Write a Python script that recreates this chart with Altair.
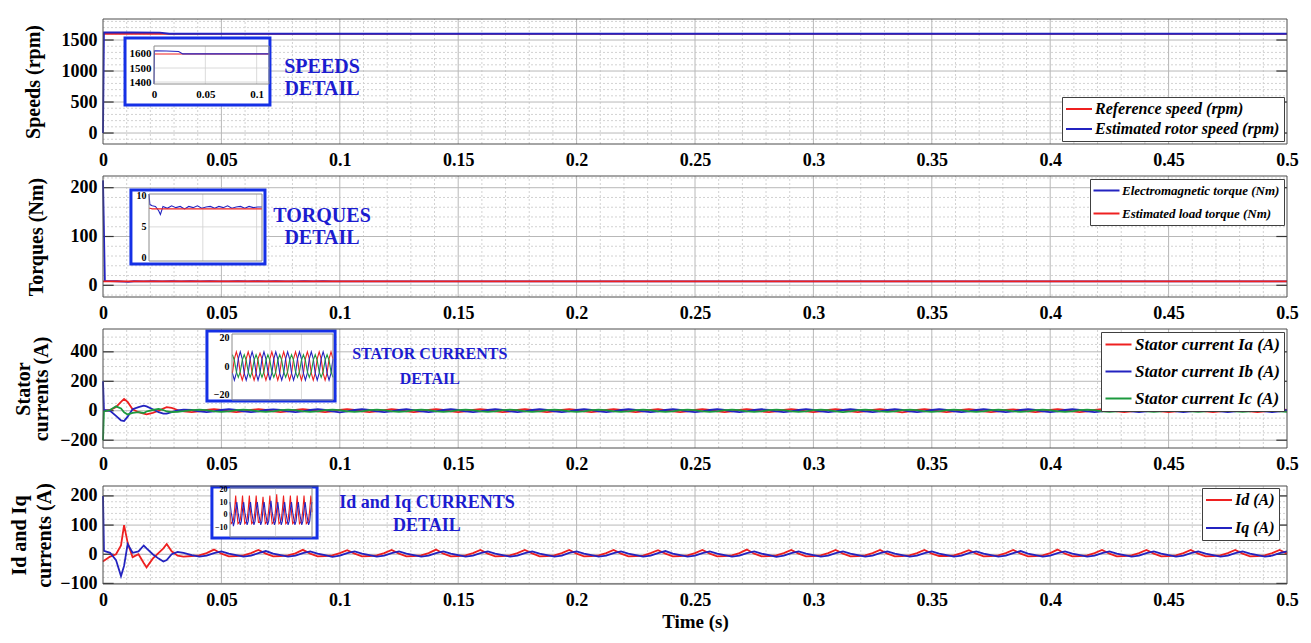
import altair as alt
import pandas as pd

FONT = "Liberation Serif"
RED = "#ee2020"
BLUE = "#2323c0"
GREEN = "#1c9a3e"
BOX = "#1530e6"
TXT = "#1c1cd0"
FRAME = "#4d4d4d"
MAJOR = "#b8b8b8"
MINOR = "#d2d2d2"
W = 1184

# ---------------- axis values ----------------
x_ticks = [0, 0.05, 0.1, 0.15, 0.2, 0.25, 0.3, 0.35, 0.4, 0.45, 0.5]
x_major = [0.05, 0.1, 0.15, 0.2, 0.25, 0.3, 0.35, 0.4, 0.45]
x_minor = [0.01, 0.02, 0.03, 0.04, 0.06, 0.07, 0.08, 0.09, 0.11, 0.12, 0.13, 0.14,
           0.16, 0.17, 0.18, 0.19, 0.21, 0.22, 0.23, 0.24, 0.26, 0.27, 0.28, 0.29,
           0.31, 0.32, 0.33, 0.34, 0.36, 0.37, 0.38, 0.39, 0.41, 0.42, 0.43, 0.44,
           0.46, 0.47, 0.48, 0.49]

# ---------------- speeds ----------------
speed_names = ["Reference speed (rpm)", "Estimated rotor speed (rpm)"]
speed_t = [0, 0.0004, 0.012, 0.024, 0.028, 0.5]
speed_ref = [1600, 1600, 1600, 1600, 1600, 1600]
speed_est = [0, 1622, 1621, 1618, 1601, 1601]

# ---------------- torques ----------------
torque_names = ["Electromagnetic torque (Nm)", "Estimated load torque (Nm)"]
torque_t = [0, 0.0008, 0.003, 0.006, 0.009, 0.0106, 0.013, 0.017, 0.021, 0.025,
            0.029, 0.033, 0.037, 0.041, 0.045, 0.049, 0.053, 0.057, 0.061, 0.065,
            0.069, 0.073, 0.077, 0.081, 0.085, 0.089, 0.093, 0.097, 0.101, 0.5]
torque_em = [215, 8.6, 8.4, 8.3, 7.6, 7.0, 8.3, 8.0, 8.4, 8.1,
             8.3, 7.9, 8.3, 8.1, 8.4, 8.0, 8.2, 8.3, 8.0, 8.3,
             8.1, 8.4, 8.0, 8.2, 8.3, 8.0, 8.3, 8.1, 8.2, 8.2]
torque_load = [8.0, 8.0, 7.9, 7.9, 7.9, 7.9, 7.9, 7.9, 7.9, 7.9,
               7.9, 7.9, 7.9, 7.9, 7.9, 7.9, 7.9, 7.9, 7.9, 7.9,
               7.9, 7.9, 7.9, 7.9, 7.9, 7.9, 7.9, 7.9, 7.9, 7.9]

# ---------------- currents (start-up part) ----------------
cur_t_start = [0, 0.0004, 0.003, 0.0055, 0.0076, 0.0089, 0.0104, 0.0125, 0.015,
               0.0172, 0.0184, 0.021, 0.0235, 0.0255, 0.0269, 0.029, 0.0315, 0.034]
ia_start = [0, 0, 5, 25, 60, 80, 60, 10, -10, -20, -25, -15, 0, 15, 25, 20, 5, -5]
ib_start = [200, 5, 0, -35, -65, -70, -40, 10, 25, 35, 30, 10, -10, -20, -20, -10, 2, 8]
ic_start = [-200, -5, 5, 30, 15, -10, -25, -15, -10, -15, -5, 5, 12, 5, -5, -10, -7, -3]
id_start = [-25, -22, -8, 0, 30, 100, 40, -10, 0, -30, -45, -15, 5, 20, 35, 10, -5, -8]
iq_start = [200, 12, 5, -20, -75, -40, 35, 5, 10, 30, 20, 0, -15, -25, -20, 0, 8, 5]

# ---------------- currents (steady part) ----------------
cur_t_steady = [
    0.0375, 0.040625, 0.04375, 0.046875,
    0.05, 0.053125, 0.05625, 0.059375, 0.0625, 0.065625, 0.06875, 0.071875,
    0.075, 0.078125, 0.08125, 0.084375, 0.0875, 0.090625, 0.09375, 0.096875,
    0.1, 0.103125, 0.10625, 0.109375, 0.1125, 0.115625, 0.11875, 0.121875,
    0.125, 0.128125, 0.13125, 0.134375, 0.1375, 0.140625, 0.14375, 0.146875,
    0.15, 0.153125, 0.15625, 0.159375, 0.1625, 0.165625, 0.16875, 0.171875,
    0.175, 0.178125, 0.18125, 0.184375, 0.1875, 0.190625, 0.19375, 0.196875,
    0.2, 0.203125, 0.20625, 0.209375, 0.2125, 0.215625, 0.21875, 0.221875,
    0.225, 0.228125, 0.23125, 0.234375, 0.2375, 0.240625, 0.24375, 0.246875,
    0.25, 0.253125, 0.25625, 0.259375, 0.2625, 0.265625, 0.26875, 0.271875,
    0.275, 0.278125, 0.28125, 0.284375, 0.2875, 0.290625, 0.29375, 0.296875,
    0.3, 0.303125, 0.30625, 0.309375, 0.3125, 0.315625, 0.31875, 0.321875,
    0.325, 0.328125, 0.33125, 0.334375, 0.3375, 0.340625, 0.34375, 0.346875,
    0.35, 0.353125, 0.35625, 0.359375, 0.3625, 0.365625, 0.36875, 0.371875,
    0.375, 0.378125, 0.38125, 0.384375, 0.3875, 0.390625, 0.39375, 0.396875,
    0.4, 0.403125, 0.40625, 0.409375, 0.4125, 0.415625, 0.41875, 0.421875,
    0.425, 0.428125, 0.43125, 0.434375, 0.4375, 0.440625, 0.44375, 0.446875,
    0.45, 0.453125, 0.45625, 0.459375, 0.4625, 0.465625, 0.46875, 0.471875,
    0.475, 0.478125, 0.48125, 0.484375, 0.4875, 0.490625, 0.49375, 0.496875,
    0.5]
ia_steady = [
    -10, -5, 5, 10, 5, -5, -10, -5, 5, 11, 5, -5, -9, -5, 5, 10, 5, -5,
    -10, -5, 5, 10, 5, -5, -10, -5, 4, 10, 5, -5, -10, -5, 5, 10, 5, -4,
    -10, -5, 5, 10, 5, -5, -9, -5, 5, 10, 5, -5, -10, -5, 5, 11, 5, -5,
    -10, -5, 5, 10, 5, -5, -10, -5, 5, 10, 4, -5, -10, -5, 5, 10, 5, -5,
    -10, -4, 5, 10, 5, -5, -10, -5, 5, 10, 5, -5, -10, -5, 5, 10, 5, -5,
    -10, -5, 5, 10, 5, -5, -11, -5, 5, 10, 5, -5, -10, -5, 5, 10, 5, -5,
    -10, -5, 5, 9, 5, -5, -10, -5, 5, 10, 5, -5, -10, -5, 5, 10, 5, -5,
    -10, -5, 5, 10, 5, -5, -10, -5, 5, 10, 5, -5, -10, -5, 5, 10, 5, -5,
    -10, -5, 5, 10, 5]
ib_steady = [
    5, -5, -10, -5, 5, 10, 5, -5, -10, -5, 5, 9, 5, -5, -10, -5, 5, 10,
    5, -5, -11, -5, 5, 10, 5, -5, -10, -5, 5, 10, 4, -5, -10, -5, 5, 10,
    5, -5, -10, -5, 5, 10, 5, -5, -10, -5, 5, 10, 5, -5, -10, -5, 5, 10,
    5, -5, -10, -4, 5, 10, 5, -5, -10, -5, 5, 10, 5, -5, -9, -5, 5, 10,
    5, -5, -10, -5, 5, 10, 5, -5, -10, -5, 5, 11, 5, -5, -10, -5, 5, 10,
    5, -5, -10, -5, 5, 10, 5, -5, -10, -5, 5, 10, 5, -5, -10, -5, 5, 10,
    5, -5, -10, -5, 5, 10, 5, -4, -10, -5, 5, 10, 5, -5, -10, -5, 5, 10,
    5, -5, -10, -5, 5, 10, 5, -5, -10, -5, 5, 10, 5, -5, -10, -5, 5, 10,
    5, -5, -10, -5, 5]
ic_steady = [
    4, 8, 4, -4, -8, -4, 4, 8, 4, -4, -8, -4, 4, 7, 4, -4, -8, -4,
    4, 8, 4, -4, -8, -4, 4, 8, 4, -4, -7, -4, 4, 8, 4, -4, -8, -4,
    4, 8, 4, -4, -8, -4, 4, 8, 4, -4, -8, -4, 4, 8, 4, -4, -8, -4,
    4, 7, 4, -4, -8, -4, 4, 8, 4, -4, -8, -4, 4, 8, 4, -4, -8, -4,
    4, 8, 4, -4, -8, -4, 4, 8, 4, -4, -8, -4, 4, 8, 4, -4, -9, -4,
    4, 8, 4, -4, -8, -4, 4, 8, 4, -4, -8, -4, 4, 8, 4, -4, -8, -4,
    4, 8, 4, -4, -8, -4, 4, 8, 4, -4, -8, -4, 4, 8, 4, -4, -8, -4,
    4, 8, 4, -4, -8, -4, 4, 8, 4, -4, -8, -4, 4, 8, 4, -4, -8, -4,
    4, 8, 4, -4, -8]
id_steady = [
    -6, -4, 4, 16, 2, -7, -6, -4, 4, 15, 2, -7, -6, -4, 3, 15, 2, -7,
    -6, -4, 4, 14, 2, -7, -6, -4, 4, 15, 2, -7, -6, -4, 4, 16, 2, -7,
    -6, -4, 4, 15, 2, -7, -6, -4, 4, 15, 3, -7, -6, -4, 4, 15, 2, -7,
    -6, -4, 4, 15, 2, -7, -6, -5, 4, 14, 2, -7, -6, -4, 4, 15, 2, -7,
    -6, -4, 4, 16, 2, -7, -6, -4, 4, 15, 2, -7, -6, -4, 4, 15, 2, -7,
    -6, -4, 4, 15, 2, -7, -6, -4, 4, 15, 2, -6, -6, -4, 4, 14, 2, -7,
    -6, -4, 4, 15, 2, -7, -6, -4, 4, 16, 2, -7, -6, -4, 4, 15, 2, -7,
    -6, -4, 4, 15, 2, -7, -6, -4, 4, 15, 2, -7, -6, -4, 4, 15, 2, -7,
    -6, -4, 4, 15, 2]
iq_steady = [
    -3, -8, -5, 4, 10, 2, -3, -8, -5, 4, 11, 2, -3, -8, -5, 4, 10, 2,
    -3, -9, -5, 4, 10, 2, -3, -8, -5, 4, 10, 2, -3, -8, -5, 4, 10, 2,
    -3, -8, -5, 4, 10, 2, -3, -8, -5, 4, 10, 2, -3, -8, -5, 5, 10, 2,
    -3, -8, -5, 4, 10, 2, -3, -8, -5, 4, 11, 2, -3, -8, -5, 4, 10, 2,
    -3, -8, -5, 4, 10, 2, -3, -9, -5, 4, 10, 2, -3, -8, -5, 4, 10, 2,
    -3, -8, -5, 4, 10, 2, -3, -8, -5, 4, 10, 2, -3, -8, -5, 4, 10, 2,
    -3, -8, -5, 4, 11, 2, -3, -8, -5, 4, 10, 2, -3, -8, -5, 4, 10, 2,
    -3, -8, -5, 4, 10, 2, -3, -8, -5, 4, 10, 2, -3, -8, -5, 4, 10, 2,
    -3, -8, -5, 4, 10]

stator_names = ["Stator current Ia (A)", "Stator current Ib (A)", "Stator current Ic (A)"]
dq_names = ["Id (A)", "Iq (A)"]

cur_t = cur_t_start + cur_t_steady
ia = ia_start + ia_steady
ib = ib_start + ib_steady
ic = ic_start + ic_steady
i_d = id_start + id_steady
i_q = iq_start + iq_steady
for arr in (ia, ib, ic, i_d, i_q):
    assert len(arr) == len(cur_t), len(arr)
assert len(torque_em) == len(torque_t) == len(torque_load)


def long_df(t, series):
    return pd.concat([pd.DataFrame({"t": t, "v": vals, "s": name}) for name, vals in series],
                     ignore_index=True)


def panel(df, names, colors, ydom, yticks, yminor, height, ytitle, title_x, title_lh,
          leg_orient, leg_off, leg_rp, leg_fs, box, note, note_size, note_lh,
          ix_dom, iy_dom, ix_rng, iy_rng, iy_ticks, ix_ticks, i_fs, i_gx, i_gy,
          xtitle=None, yrange=None):
    xs = alt.Scale(domain=[0, 0.5], nice=False, zero=False)
    if yrange is None:
        ys = alt.Scale(domain=ydom, nice=False, zero=False)
    else:
        ys = alt.Scale(domain=ydom, range=yrange, nice=False, zero=False)
    ixs = alt.Scale(domain=ix_dom, range=ix_rng, nice=False, zero=False, clamp=True)
    iys = alt.Scale(domain=iy_dom, range=iy_rng, nice=False, zero=False, clamp=True)

    xaxis_kw = dict(orient="bottom", values=x_ticks, format="~g", grid=False, ticks=False,
                    domain=False, labelFont=FONT, labelFontSize=18, labelFontWeight="bold",
                    labelColor="black", labelPadding=7, labelFlush=False, labelOverlap=False,
                    titleFont=FONT, titleFontSize=19, titleFontWeight="bold",
                    titleColor="black", titleY=37, titleBaseline="middle")
    xaxis_kw["title"] = xtitle
    xaxis = alt.Axis(**xaxis_kw)
    yaxis = alt.Axis(orient="left", values=yticks, format="d", grid=False, ticks=False,
                     domain=False, labelFont=FONT, labelFontSize=18, labelFontWeight="bold",
                     labelColor="black", labelPadding=6, labelOverlap=False,
                     title=ytitle, titleFont=FONT, titleFontSize=20, titleFontWeight="bold",
                     titleColor="black", titleX=title_x, titleBaseline="middle",
                     titleAlign="center", titleLineHeight=title_lh, titleAngle=270)
    iyaxis = alt.Axis(orient="left", offset=-ix_rng[0], values=iy_ticks, format="d",
                      grid=False, ticks=False, domain=False, labelFont=FONT,
                      labelFontSize=i_fs, labelFontWeight="bold", labelColor="black",
                      labelPadding=3, labelOverlap=False, title=None, zindex=3)
    if ix_ticks:
        ixaxis = alt.Axis(orient="bottom", offset=iy_rng[0] - height, values=ix_ticks,
                          format="~g", grid=False, ticks=False, domain=False, labelFont=FONT,
                          labelFontSize=i_fs, labelFontWeight="bold", labelColor="black",
                          labelPadding=4, labelFlush=False, labelOverlap=False, title=None,
                          zindex=3)
    else:
        ixaxis = alt.Axis(orient="bottom", offset=iy_rng[0] - height, grid=False,
                          ticks=False, domain=False, labels=False, title=None, zindex=3)

    # every layer carries the very same axis definition so that they merge cleanly
    def X(f):
        return alt.X(f, type="quantitative", scale=xs, axis=xaxis)

    def Y(f):
        return alt.Y(f, type="quantitative", scale=ys, axis=yaxis)

    def IX(f):
        return alt.X(f, type="quantitative", scale=ixs, axis=ixaxis)

    def IY(f):
        return alt.Y(f, type="quantitative", scale=iys, axis=iyaxis)

    legend = alt.Legend(orient=leg_orient, offset=leg_off, title=None,
                        direction="vertical", fillColor="white", strokeColor="#404040",
                        padding=4, symbolType="M-2,0H2", symbolSize=169,
                        symbolStrokeWidth=2, symbolOffset=5, labelOffset=8,
                        labelFont=FONT, labelFontSize=leg_fs, labelFontStyle="italic",
                        labelFontWeight="bold", labelColor="black", rowPadding=leg_rp,
                        labelLimit=0, zindex=5)
    color = alt.Color("s:N", scale=alt.Scale(domain=names, range=colors), legend=legend)

    n = len(yticks)
    hmin = alt.Chart(pd.DataFrame({"v": yminor, "t0": 0.0, "t1": 0.5})).mark_rule(
        color=MINOR, strokeWidth=1, strokeDash=[2, 2]).encode(x=X("t0"), x2="t1", y=Y("v"))
    vmin = alt.Chart(pd.DataFrame({"t": x_minor, "v0": ydom[0], "v1": ydom[1]})).mark_rule(
        color=MINOR, strokeWidth=1, strokeDash=[2, 2]).encode(x=X("t"), y=Y("v0"), y2="v1")
    hmaj = alt.Chart(pd.DataFrame({"v": yticks, "t0": 0.0, "t1": 0.5})).mark_rule(
        color=MAJOR, strokeWidth=1).encode(x=X("t0"), x2="t1", y=Y("v"))
    vmaj = alt.Chart(pd.DataFrame({"t": x_major, "v0": ydom[0], "v1": ydom[1]})).mark_rule(
        color=MAJOR, strokeWidth=1).encode(x=X("t"), y=Y("v0"), y2="v1")
    tick_df = pd.DataFrame({"v": yticks + yticks,
                            "t0": [0.0] * n + [0.4955] * n,
                            "t1": [0.0045] * n + [0.5] * n})
    tks = alt.Chart(tick_df).mark_rule(color="#333333", strokeWidth=1.2).encode(
        x=X("t0"), x2="t1", y=Y("v"))
    lines = alt.Chart(df).mark_line(strokeWidth=1.8).encode(
        x=X("t"), y=Y("v"), color=color)
    boxc = alt.Chart(pd.DataFrame({"t0": [box[0]], "t1": [box[1]], "v0": [box[2]],
                                   "v1": [box[3]]})).mark_rect(
        fill="white", stroke=BOX, strokeWidth=3).encode(x=X("t0"), x2="t1", y=Y("v0"), y2="v1")
    notec = alt.Chart(pd.DataFrame({"t": [note[0]], "v": [note[1]], "label": [note[2]]})).mark_text(
        font=FONT, fontSize=note_size, fontWeight="bold", color=TXT, lineBreak="\n",
        lineHeight=note_lh, align="center", baseline="middle").encode(
        x=X("t"), y=Y("v"), text="label:N")
    frame = alt.Chart(pd.DataFrame({"t0": [0.0], "t1": [0.5], "v0": [ydom[0]],
                                    "v1": [ydom[1]]})).mark_rect(
        fillOpacity=0, stroke=FRAME, strokeWidth=1).encode(x=X("t0"), x2="t1", y=Y("v0"), y2="v1")
    main = alt.layer(hmin, vmin, hmaj, vmaj, tks, lines, boxc, notec, frame)

    igx = alt.Chart(pd.DataFrame({"t": i_gx, "v0": iy_dom[0], "v1": iy_dom[1]})).mark_rule(
        color="#d0d0d0", strokeWidth=0.8).encode(x=IX("t"), y=IY("v0"), y2="v1")
    igy = alt.Chart(pd.DataFrame({"v": i_gy, "t0": ix_dom[0], "t1": ix_dom[1]})).mark_rule(
        color="#d0d0d0", strokeWidth=0.8).encode(x=IX("t0"), x2="t1", y=IY("v"))
    ilines = alt.Chart(df).transform_filter(alt.datum.t >= ix_dom[0]).mark_line(
        strokeWidth=1.1).encode(x=IX("t"), y=IY("v"), color=color)
    iframe = alt.Chart(pd.DataFrame({"t0": [ix_dom[0]], "t1": [ix_dom[1]], "v0": [iy_dom[0]],
                                     "v1": [iy_dom[1]]})).mark_rect(
        fillOpacity=0, stroke="#8c8c8c", strokeWidth=1).encode(
        x=IX("t0"), x2="t1", y=IY("v0"), y2="v1")
    inset = alt.layer(igx, igy, ilines, iframe)

    return alt.layer(main, inset).resolve_scale(x="independent", y="independent").properties(
        width=W, height=height)


df1 = long_df(speed_t, [(speed_names[0], speed_ref), (speed_names[1], speed_est)])
df2 = long_df(torque_t, [(torque_names[0], torque_em), (torque_names[1], torque_load)])
df3 = long_df(cur_t, [(stator_names[0], ia), (stator_names[1], ib), (stator_names[2], ic)])
df4 = long_df(cur_t, [(dq_names[0], i_d), (dq_names[1], i_q)])

p1 = panel(df1, speed_names, [RED, BLUE], [-177, 1839], [0, 500, 1000, 1500],
           [-100, 100, 200, 300, 400, 600, 700, 800, 900, 1100, 1200, 1300, 1400, 1600, 1700, 1800],
           125, "Speeds (rpm)", -70, 20, "bottom-right", 3, 4, 16,
           [0.0093, 0.0705, 452, 1533], (0.0925, 1065, "SPEEDS\nDETAIL"), 20, 22,
           [0, 0.112], [1386, 1657], [51, 166], [65, 27], [1400, 1500, 1600], [0, 0.05, 0.1],
           11, [0.05, 0.1], [1400, 1500])
p2 = panel(df2, torque_names, [BLUE, RED], [-24, 224], [0, 100, 200],
           [-20, 20, 40, 60, 80, 120, 140, 160, 180, 220],
           121, "Torques (Nm)", -67, 20, "top-right", 3, 8, 13,
           [0.0118, 0.0684, 43.7, 195.3], (0.0925, 142, "TORQUES\nDETAIL"), 20, 22,
           [0, 0.105], [-0.5, 10.3], [46, 159], [85, 18], [0, 5, 10], None,
           10, [0.05, 0.1], [5])
p3 = panel(df3, stator_names, [RED, BLUE, GREEN], [-253, 555], [-200, 0, 200, 400],
           [-150, -100, -50, 50, 100, 150, 250, 300, 350, 450, 500],
           119, ["Stator", "currents (A)"], -80, 18, "top-right", 3, 9, 17,
           [0.0439, 0.098, 66, 541], (0.138, 385, "STATOR CURRENTS\nDETAIL"), 16, 25,
           [0.34, 0.5], [-23.9, 22.5], [129, 230], [71, 5], [-20, 0, 20], None,
           10, [0.4, 0.45], [0])
p4 = panel(df4, dq_names, [RED, BLUE], [-102, 234], [-100, 0, 100, 200],
           [-80, -60, -40, -20, 20, 40, 60, 80, 120, 140, 160, 180, 220],
           104, ["Id and Iq", "currents (A)"], -84, 25, "top-right", 8, 12, 16,
           [0.046, 0.0904, 55.7, 230.6], (0.1368, 175.7, "Id and Iq CURRENTS\nDETAIL"), 18, 23,
           [0.275, 0.5], [-17.5, 21], [127, 209], [57, 8], [-10, 0, 10, 20], None,
           8, [0.4], [0], xtitle="Time (s)", yrange=[104, 6])

chart = alt.vconcat(p1, p2, p3, p4, spacing=32, bounds="flush").resolve_scale(
    color="independent").properties(
    padding={"left": 0, "top": 10, "right": 0, "bottom": 0}).configure(
    font=FONT).configure_view(stroke="transparent")

chart.save("out.html", embed_options={"renderer": "svg", "actions": False})
